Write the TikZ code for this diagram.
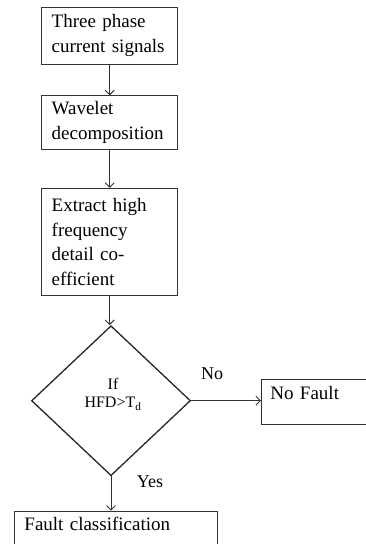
\documentclass[tikz,border=0pt]{standalone}
\usepackage{fontspec}
\setmainfont{Liberation Serif}
\usetikzlibrary{shapes.geometric,arrows.meta}
\begin{document}
\begin{tikzpicture}[x=1pt,y=-1pt,
  box/.style={draw=black!80,line width=0.9pt,rectangle,inner xsep=10pt,inner ysep=0pt,
    text width=116pt,align=left,font=\fontsize{19}{24.4}\selectfont},
  decide/.style={draw=black!85,line width=1.3pt,diamond,inner sep=0pt,
    minimum width=159pt,minimum height=150pt},
  conn/.style={draw=black!80,line width=0.9pt,-{Straight Barb[length=4.5pt,width=9pt]}},
  lbl/.style={inner sep=0pt,font=\fontsize{18}{20}\selectfont}]
\useasboundingbox (0,0) rectangle (366,544);
\fill[white] (0,0) rectangle (366,544);
\node[box,minimum height=56.7pt] (b1) at (109.7,35.6) {Three phase\\current signals};
\node[box,minimum height=53.3pt] (b2) at (109.7,122.4) {Wavelet\\decomposition};
\node[box,minimum height=107.4pt] (b3) at (109.7,242) {Extract high\\frequency\\detail co-\\efficient};
\node[decide] (d) at (111,400.7) {};
\node[inner sep=0pt,align=center,font=\fontsize{16}{18.3}\selectfont] (dt) at (113,394) {If\\HFD>T\textsubscript{d}};
\node[box,anchor=north west,text width=110pt,inner xsep=9pt,inner ysep=7.7pt,
  text height=12.6pt,text depth=17pt] (nf) at (261,379) {No Fault};
\node[box,anchor=north west,text width=182.7pt,inner ysep=6.7pt,
  text height=12.6pt,text depth=14pt] (fc) at (14,510.7) {Fault classification};
\draw[conn] (b1.south) -- (b2.north);
\draw[conn] (b2.south) -- (b3.north);
\draw[conn] (b3.south) -- (b3.south |- d.north);
\draw[conn] (d.east) -- (nf.west |- d.east);
\draw[conn] (d.south) -- (d.south |- fc.north);
\node[lbl,anchor=base west] (no) at (201,379) {No};
\node[lbl,anchor=base west] (yes) at (136.7,487.3) {Yes};
\end{tikzpicture}
\end{document}
